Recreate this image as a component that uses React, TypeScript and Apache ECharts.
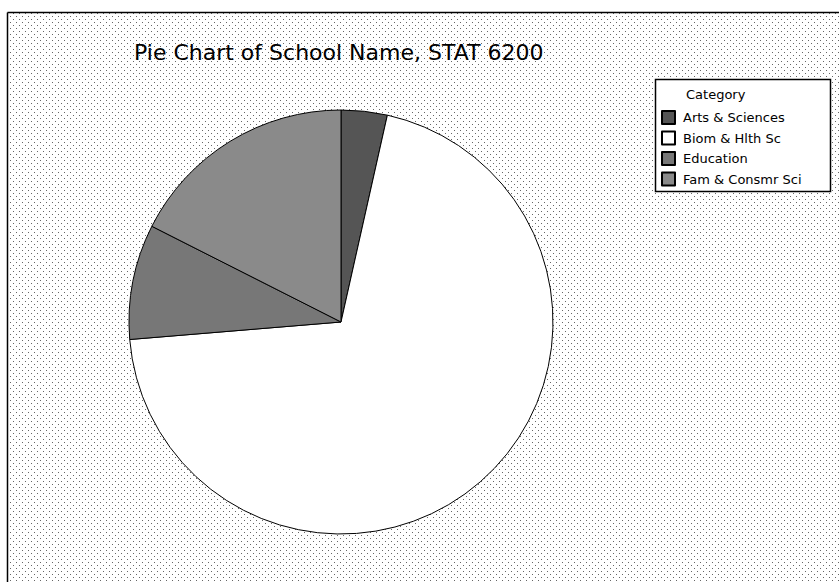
import React, { useEffect, useRef } from "react";
import * as echarts from "echarts";

const chartTitle = "Pie Chart of School Name, STAT 6200";
const legendTitle = "Category";
const categories = ["Arts & Sciences", "Biom & Hlth Sc", "Education", "Fam & Consmr Sci"];
const counts = [2, 40, 5, 10];
const sliceColors = ["#555555", "#ffffff", "#777777", "#8a8a8a"];

function makeDots(): HTMLCanvasElement {
  const c = document.createElement("canvas");
  c.width = 6;
  c.height = 6;
  const ctx = c.getContext("2d")!;
  ctx.fillStyle = "#ffffff";
  ctx.fillRect(0, 0, 6, 6);
  ctx.fillStyle = "#666666";
  ctx.fillRect(1, 1, 1, 1);
  ctx.fillRect(4, 4, 1, 1);
  return c;
}

export default function App() {
  const ref = useRef<HTMLDivElement>(null);
  useEffect(() => {
    document.body.style.margin = "0";
    const chart = echarts.init(ref.current!, undefined, { renderer: "svg" });
    const dots = makeDots();
    chart.setOption({
      animation: false,
      backgroundColor: "#ffffff",
      graphic: [
        {
          type: "rect",
          z: 0,
          silent: true,
          shape: { x: 7, y: 12, width: 832, height: 570 },
          style: { fill: { image: dots, repeat: "repeat" } as any },
        },
        {
          type: "line",
          z: 0,
          silent: true,
          shape: { x1: 7.5, y1: 12.5, x2: 839, y2: 12.5 },
          style: { stroke: "#000", lineWidth: 1.5 },
        },
        {
          type: "line",
          z: 0,
          silent: true,
          shape: { x1: 7.5, y1: 12.5, x2: 7.5, y2: 582 },
          style: { stroke: "#000", lineWidth: 1.5 },
        },
        {
          type: "rect",
          z: 0,
          silent: true,
          shape: { x: 655.5, y: 79.5, width: 175, height: 112 },
          style: { fill: "#ffffff", stroke: "#000", lineWidth: 1.5 },
        },
        {
          type: "text",
          z: 1,
          silent: true,
          x: 686,
          y: 94,
          style: {
            text: legendTitle,
            font: "13px 'DejaVu Sans'",
            fill: "#000",
            verticalAlign: "middle",
            align: "left",
          },
        },
        {
          type: "text",
          z: 1,
          silent: true,
          x: 134,
          y: 52,
          style: {
            text: chartTitle,
            font: "22px 'DejaVu Sans'",
            fill: "#000",
            verticalAlign: "middle",
            align: "left",
          },
        },
      ],
      legend: {
        orient: "vertical",
        left: 661,
        top: 110,
        itemWidth: 13,
        itemHeight: 13,
        itemGap: 5.5,
        padding: 0,
        icon: "rect",
        textStyle: {
          fontFamily: "DejaVu Sans",
          fontSize: 13,
          color: "#000",
          padding: [0, 0, 0, 3],
        },
        data: categories,
      },
      series: [
        {
          type: "pie",
          center: [341, 322],
          radius: [0, 212],
          startAngle: 90,
          clockwise: true,
          label: { show: false },
          labelLine: { show: false },
          emphasis: { disabled: true },
          itemStyle: { borderColor: "#000", borderWidth: 1 },
          data: categories.map((name, i) => ({
            name,
            value: counts[i],
            itemStyle: { color: sliceColors[i] },
          })),
        },
      ],
    });
    return () => chart.dispose();
  }, []);
  return <div ref={ref} style={{ width: 839, height: 582 }} />;
}
